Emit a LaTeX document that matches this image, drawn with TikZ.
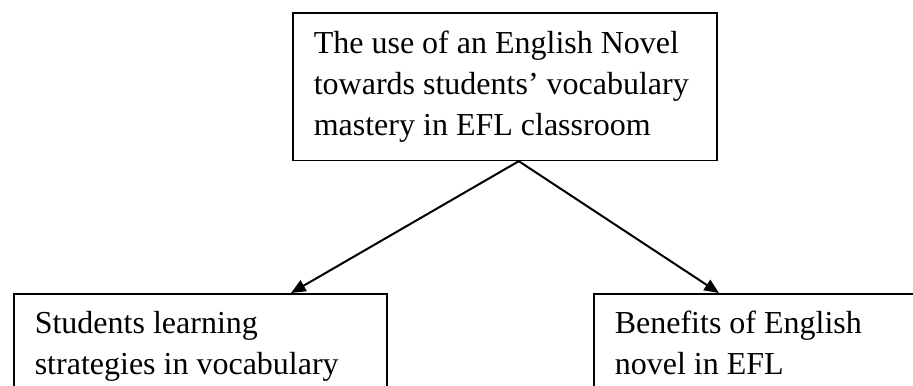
\documentclass[tikz,border=0pt]{standalone}
\usepackage{fontspec}
\setmainfont{Liberation Serif}
\usetikzlibrary{arrows.meta}
\tikzset{
  box/.style={draw,line width=0.6pt,align=flush left,inner xsep=7.875pt,
    font=\fontsize{12}{15.4}\selectfont},
  link/.style={line width=0.75pt,-{Triangle[length=5.5pt,width=4.6pt]}}
}
\begin{document}
\begin{tikzpicture}[x=0.375pt,y=-0.375pt]
\useasboundingbox (0,0) rectangle (913,385);
\clip (0,0) rectangle (913,385);
\node[box,text width=143.25pt,inner ysep=6.75pt,anchor=north west] (novel) at (292,12)
  {The use of an English Novel\\towards students’ vocabulary\\mastery in EFL classroom};
\node[box,text width=124.125pt,inner ysep=6.4pt,anchor=north west] (strategies) at (13,293)
  {Students learning\\strategies in vocabulary};
\node[box,text width=124.125pt,inner ysep=6.4pt,anchor=north west] (benefits) at (593,293)
  {Benefits of English\\novel in EFL};
\coordinate (fork) at ([xshift=5.25pt]novel.south);
\coordinate (lefttip) at ([xshift=104.25pt]strategies.north west);
\coordinate (righttip) at ([xshift=47.25pt]benefits.north west);
\draw[link] (fork) -- (lefttip);
\draw[link] (fork) -- (righttip);
\end{tikzpicture}
\end{document}
